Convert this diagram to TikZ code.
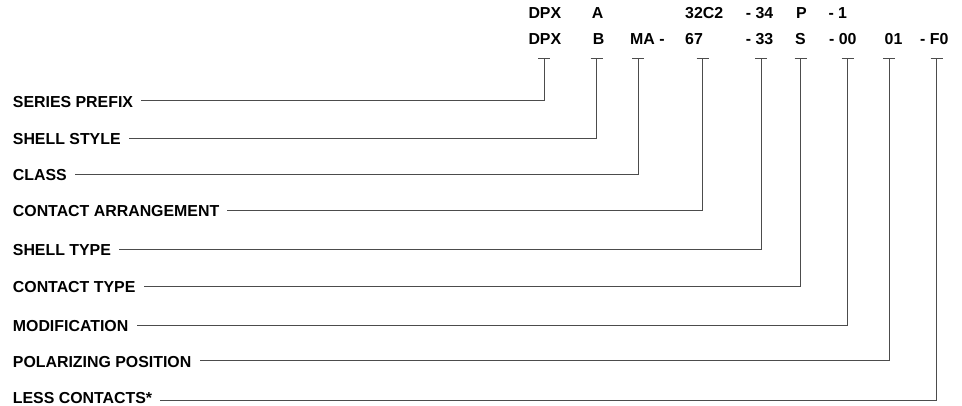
\documentclass[tikz,border=0pt]{standalone}
\usepackage{fontspec}
\setmainfont{Liberation Sans}
\begin{document}
\begin{tikzpicture}[x=1pt,y=-1pt,
  lbl/.style={anchor=west,inner sep=0pt,font=\fontsize{15.9}{18}\selectfont\bfseries},
  code/.style={anchor=base west,inner sep=0pt,font=\fontsize{15.9}{18}\selectfont\bfseries},
  conn/.style={draw=black!70,line width=0.9pt},
  teebar/.style={draw=black!70,line width=0.9pt}]
\useasboundingbox (0,0) rectangle (962,406);
% top code rows
\node[code] (a1) at (528.3,18.3) {DPX};
\node[code] (a2) at (591.7,18.3) {A};
\node[code] (a3) at (685,18.3) {32C2};
\node[code] (a4) at (745.7,18.3) {- 34};
\node[code] (a5) at (796,18.3) {P};
\node[code] (a6) at (828.3,18.3) {- 1};
\node[code] (b1) at (528.3,45) {DPX};
\node[code] (b2) at (592.7,45) {B};
\node[code] (b3) at (630,45) {MA -};
\node[code] (b4) at (685,45) {67};
\node[code] (b5) at (745.7,45) {- 33};
\node[code] (b6) at (795,45) {S};
\node[code] (b7) at (829,45) {- 00};
\node[code] (b8) at (884.5,45) {01};
\node[code] (b9) at (920,45) {- F0};
% labels
\node[lbl] (l1) at (12.7,101.7) {SERIES PREFIX};
\node[lbl] (l2) at (12.7,139.3) {SHELL STYLE};
\node[lbl] (l3) at (12.7,175) {CLASS};
\node[lbl] (l4) at (12.7,211) {CONTACT ARRANGEMENT};
\node[lbl] (l5) at (12.7,250) {SHELL TYPE};
\node[lbl] (l6) at (12.7,287) {CONTACT TYPE};
\node[lbl] (l7) at (12.7,326) {MODIFICATION};
\node[lbl] (l8) at (12.7,361.7) {POLARIZING POSITION};
\node[lbl] (l9) at (12.7,398.5) {LESS CONTACTS*};
% tee tops
\foreach \i/\x in {1/544,2/596.7,3/638.3,4/702.7,5/761,6/800.7,7/847.7,8/889.3,9/936.7}{
  \coordinate (t\i) at (\x,58.5);
  \draw[teebar] ([xshift=-6pt]t\i) -- ([xshift=6pt]t\i);
}
% connectors
\foreach \i/\y in {1/100.7,2/138.3,3/174,4/210,5/249,6/286,7/325,8/360.7,9/400.7}{
  \coordinate (e\i) at ([xshift=8pt]l\i.east);
  \draw[conn] (t\i) -- (t\i |- 0,\y) -- (e\i |- 0,\y);
}
\end{tikzpicture}
\end{document}
